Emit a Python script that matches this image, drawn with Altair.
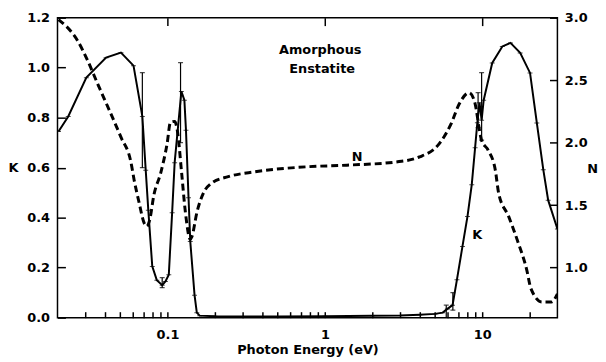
import altair as alt
import pandas as pd

# ---- data ----
k_energy = [0.0203, 0.0234, 0.0305, 0.0407, 0.0506, 0.0608, 0.0692, 0.0727, 0.0755, 0.080,
            0.0855, 0.0925, 0.097, 0.1019, 0.107, 0.111, 0.1225, 0.128, 0.131, 0.136,
            0.1395, 0.1485, 0.1535, 0.16, 0.2, 0.3, 0.5, 1.0, 2.0, 3.0,
            4.0, 5.0, 5.6, 6.0, 6.47, 6.9, 7.48, 8.05, 8.57, 9.0,
            9.3, 9.6, 9.9, 10.2, 11.56, 13.4, 15.1, 17.4, 20.1, 22.2,
            24.4, 26.2, 30.0]
k_values = [0.745, 0.805, 0.96, 1.04, 1.06, 1.008, 0.805, 0.59, 0.43, 0.205,
            0.15, 0.13, 0.145, 0.172, 0.42, 0.62, 0.905, 0.87, 0.75, 0.48,
            0.305, 0.09, 0.02, 0.008, 0.006, 0.005, 0.005, 0.006, 0.008, 0.009,
            0.012, 0.015, 0.02, 0.035, 0.05, 0.152, 0.285, 0.405, 0.532, 0.68,
            0.78, 0.86, 0.79, 0.87, 1.019, 1.085, 1.099, 1.059, 0.979, 0.779,
            0.592, 0.47, 0.355]

n_energy = [0.0203, 0.027, 0.0312, 0.0361, 0.0428, 0.0506, 0.0585, 0.0614, 0.066, 0.0709,
            0.0738, 0.077, 0.082, 0.0904, 0.0994, 0.1044, 0.111, 0.116, 0.1225, 0.13,
            0.1395, 0.143, 0.1536, 0.169, 0.19, 0.243, 0.358, 0.77, 1.38, 2.85,
            3.99, 5.33, 6.33, 7.13, 8.24, 8.9, 9.9, 10.9, 12.1, 12.7,
            14.7, 16.9, 19.1, 20.4, 23.9, 27.5, 30.0]
n_values = [2.985, 2.81, 2.652, 2.467, 2.256, 2.044, 1.846, 1.70, 1.52, 1.36,
            1.33, 1.38, 1.583, 1.755, 1.992, 2.163, 2.17, 2.08, 1.78, 1.44,
            1.226, 1.25, 1.44, 1.596, 1.675, 1.728, 1.767, 1.807, 1.82, 1.846,
            1.886, 1.992, 2.15, 2.309, 2.40, 2.335, 2.018, 1.939, 1.78, 1.596,
            1.41, 1.2, 0.989, 0.83, 0.725, 0.725, 0.79]

err_energy = [0.0692, 0.0925, 0.121, 5.9, 6.5, 9.4, 9.9]
err_low = [0.60, 0.12, 0.70, 0.0, 0.03, 0.76, 0.71]
err_high = [0.98, 0.16, 1.02, 0.05, 0.10, 0.90, 0.98]

k_ticks = [0.0, 0.2, 0.4, 0.6, 0.8, 1.0, 1.2]
n_ticks = [1.0, 1.5, 2.0, 2.5, 3.0]
x_major = [0.1, 1, 10]
x_minor = [0.03, 0.04, 0.05, 0.06, 0.07, 0.08, 0.09, 0.1,
           0.2, 0.3, 0.4, 0.5, 0.6, 0.7, 0.8, 0.9, 1,
           2, 3, 4, 5, 6, 7, 8, 9, 10, 20]

title_text = ["Amorphous", "Enstatite"]
title_energy = [0.934, 0.96]
title_k = [1.072, 0.996]

FONT = "DejaVu Sans"

xscale = alt.Scale(type="log", domain=[0.02, 30], nice=False)
kscale = alt.Scale(domain=[0, 1.2], nice=False, zero=False)
nscale = alt.Scale(domain=[0.6, 3.0], nice=False, zero=False)

k_df = pd.DataFrame({"E": k_energy, "K": k_values})
n_df = pd.DataFrame({"E": n_energy, "N": n_values})
err_df = pd.DataFrame({"E": err_energy, "lo": err_low, "hi": err_high})
cap_df = pd.DataFrame({"E": err_energy + err_energy, "K": err_low + err_high})
ttl_df = pd.DataFrame({"E": title_energy, "K": title_k, "t": title_text})
klab_df = pd.DataFrame({"E": [9.3], "K": [0.332], "t": ["K"]})
nlab_df = pd.DataFrame({"E": [1.6], "N": [1.884], "t": ["N"]})

bottom_axis = alt.Axis(
    values=x_minor, format="~g",
    labelExpr="(datum.value == 0.1 || datum.value == 1 || datum.value == 10) ? datum.label : ''",
    tickSize=6, offset=-6, domain=False, grid=False, labelPadding=11,
    title="Photon Energy (eV)", titleY=38, titleBaseline="middle",
)
top_axis = alt.Axis(orient="top", values=x_major, labels=False, tickSize=8, offset=-8,
                    domain=False, grid=False, title=None)
left_axis = alt.Axis(orient="left", values=k_ticks, format=".1f", tickSize=8, offset=-8,
                     domain=False, grid=False, labelPadding=8, title="K", titleAngle=0,
                     titleX=-53, titleY=151, titleAlign="center", titleBaseline="middle")
right_axis = alt.Axis(orient="right", values=n_ticks, format=".1f", tickSize=8, offset=-8,
                      domain=False, grid=False, labelPadding=7, title="N", titleAngle=0,
                      titleX=43, titleY=152, titleAlign="center", titleBaseline="middle")

base_k = alt.Chart(k_df)
k_line = base_k.mark_line(color="black", strokeWidth=2, clip=True).encode(
    x=alt.X("E:Q", scale=xscale, axis=bottom_axis),
    y=alt.Y("K:Q", scale=kscale, axis=left_axis),
    order="E:Q",
)
k_marks = base_k.mark_tick(color="black", orient="horizontal", size=5,
                           thickness=1, clip=True).encode(
    x=alt.X("E:Q", scale=xscale),
    y=alt.Y("K:Q", scale=kscale),
)
err_rules = alt.Chart(err_df).mark_rule(color="black", strokeWidth=1.2, clip=True).encode(
    x=alt.X("E:Q", scale=xscale),
    y=alt.Y("lo:Q", scale=kscale),
    y2="hi:Q",
)
err_caps = alt.Chart(cap_df).mark_tick(color="black", orient="horizontal", size=5,
                                        thickness=1.2, clip=True).encode(
    x=alt.X("E:Q", scale=xscale),
    y=alt.Y("K:Q", scale=kscale),
)
ttl = alt.Chart(ttl_df).mark_text(font=FONT, fontSize=13, fontWeight="bold",
                                  color="black").encode(
    x=alt.X("E:Q", scale=xscale),
    y=alt.Y("K:Q", scale=kscale),
    text="t:N",
)
klab = alt.Chart(klab_df).mark_text(font=FONT, fontSize=13, fontWeight="bold",
                                    color="black").encode(
    x=alt.X("E:Q", scale=xscale),
    y=alt.Y("K:Q", scale=kscale),
    text="t:N",
)
k_group = alt.layer(k_line, k_marks, err_rules, err_caps, ttl, klab)

n_line = alt.Chart(n_df).mark_line(color="black", strokeWidth=3, strokeDash=[7, 4],
                                   interpolate="monotone", clip=True).encode(
    x=alt.X("E:Q", scale=xscale, axis=top_axis),
    y=alt.Y("N:Q", scale=nscale, axis=right_axis),
    order="E:Q",
)
nlab = alt.Chart(nlab_df).mark_text(font=FONT, fontSize=13, fontWeight="bold",
                                    color="black").encode(
    x=alt.X("E:Q", scale=xscale),
    y=alt.Y("N:Q", scale=nscale),
    text="t:N",
)
n_group = alt.layer(n_line, nlab)

chart = alt.layer(k_group, n_group).resolve_scale(
    y="independent"
).resolve_axis(
    x="independent", y="independent"
).properties(
    width=505, height=303,
    autosize=alt.AutoSizeParams(type="none"),
    padding={"left": 50, "top": 8, "right": 41, "bottom": 40},
).configure_view(
    stroke="black", strokeWidth=1.5
).configure_axis(
    labelFont=FONT, titleFont=FONT, labelFontWeight="bold", titleFontWeight="bold",
    labelFontSize=13, titleFontSize=13, labelColor="black", titleColor="black",
    tickColor="black", tickWidth=1.5,
)

chart.save("out.html", embed_options={"renderer": "svg", "actions": False})
